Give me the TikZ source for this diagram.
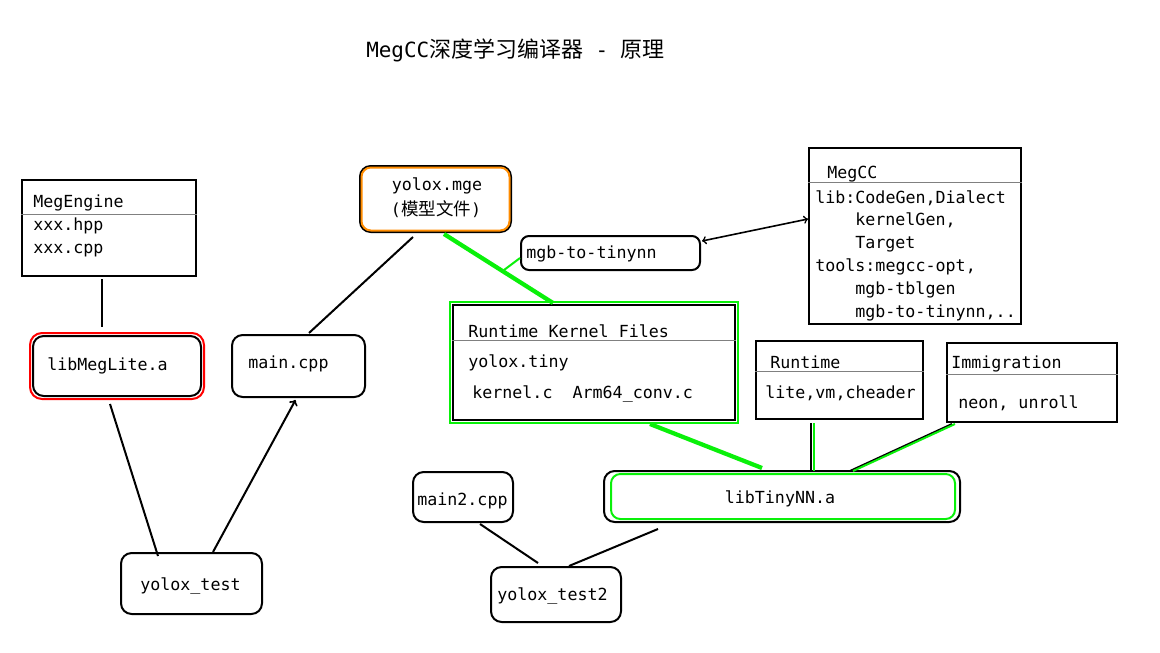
\documentclass[tikz,border=0pt]{standalone}
\usepackage{fontspec}
\usepackage{tikz}
\usetikzlibrary{positioning}
\usepackage{color}
\newfontfamily\mono{DejaVu Sans Mono}
\newfontfamily\cjk[Scale=1.05]{Noto Sans CJK SC}
\definecolor{brightgreen}{RGB}{10,240,10}
\definecolor{mgeorange}{RGB}{255,140,0}

\tikzset{
  box/.style={rectangle, draw=black, line width=1.5pt, inner sep=0pt},
  rbox/.style={box, rounded corners=8pt},
  txt/.style={anchor=base west, inner sep=0pt,
              font=\mono\fontsize{12.5}{15}\selectfont},
  divider/.style={draw=gray, line width=0.75pt}
}

\begin{document}
\begin{tikzpicture}[x=0.75pt, y=-0.75pt]
    \useasboundingbox[fill=white] (0,0) rectangle (1160,653);

    % Title
        \node[anchor=base west, inner sep=0pt] (title) at (366,57)
              {\fontsize{15.7}{18}\selectfont\mono MegCC{\cjk 深度学习编译器}\ -\ {\cjk 原理}};

    % Add the boxes
        \node[box,
              minimum width=130.5pt,
              minimum height=72pt] (megengine) at (109,228) {};
        \node[rbox,
              minimum width=126pt,
              minimum height=45pt] (lite) at (117,366) {};
        \node[rbox,
              minimum width=113.25pt,
              minimum height=49.5pt] (mge) at (435.5,199) {};
        \node[rbox,
              minimum width=99.75pt,
              minimum height=46.5pt] (main) at (298.5,366) {};
        \node[rbox,
              rounded corners=6pt,
              minimum width=134.25pt,
              minimum height=25.5pt] (mgb) at (610.5,253) {};
        \node[box,
              minimum width=159pt,
              minimum height=132pt] (megcc) at (915,236) {};
        \node[box,
              minimum width=211.5pt,
              minimum height=86.25pt] (rkf) at (594,362.5) {};
        \node[box,
              minimum width=125.25pt,
              minimum height=58.5pt] (runtime) at (839.5,380) {};
        \node[box,
              minimum width=127.5pt,
              minimum height=59.25pt] (immig) at (1032,382.5) {};
        \node[rbox,
              minimum width=267pt,
              minimum height=38.25pt] (tiny) at (782,496.5) {};
        \node[rbox,
              minimum width=75pt,
              minimum height=37.5pt] (main2) at (463,497) {};
        \node[rbox,
              minimum width=97.5pt,
              minimum height=41.25pt] (test2) at (556,594.5) {};
        \node[rbox,
              minimum width=105.75pt,
              minimum height=45.75pt] (test) at (191.5,583.5) {};

    % Coloured borders
        \draw[red, line width=1.5pt, rounded corners=9pt]
            ([shift={(-2,2)}]lite.south west) rectangle ([shift={(2,-2)}]lite.north east);
        \draw[mgeorange, line width=1.5pt, rounded corners=7pt]
            ([shift={(2.5,-2.5)}]mge.south west) rectangle ([shift={(-2.5,2.5)}]mge.north east);
        \draw[brightgreen, line width=1.5pt]
            ([shift={(-2,2)}]rkf.south west) rectangle ([shift={(2,-2)}]rkf.north east);
        \draw[brightgreen, line width=1.5pt, rounded corners=7pt]
            ([shift={(8,-4)}]tiny.south west) rectangle ([shift={(-6,4)}]tiny.north east);

    % Dividers
        \draw[divider] (megengine.west |- 0,214) -- (megengine.east |- 0,214);
        \draw[divider] (megcc.west |- 0,182) -- (megcc.east |- 0,182);
        \draw[divider] (rkf.west |- 0,340) -- (rkf.east |- 0,340);
        \draw[divider] (runtime.west |- 0,371) -- (runtime.east |- 0,371);
        \draw[divider] (immig.west |- 0,374) -- (immig.east |- 0,374);

    % Texts
        \node[txt] (megengine-title) at (33,207) {MegEngine};
        \node[txt] (megengine-hpp) at (33,230) {xxx.hpp};
        \node[txt] (megengine-cpp) at (33,253) {xxx.cpp};
        \node[txt] (lite-text) at (47,370) {libMegLite.a};
        \node[txt, anchor=base] (mge-text) at (437,190) {yolox.mge};
        \node[txt, anchor=base] (mge-note) at (436,215) {({\cjk 模型文件})};
        \node[txt] (main-text) at (248,368) {main.cpp};
        \node[txt] (mgb-text) at (526,258) {mgb-to-tinynn};
        \node[txt] (megcc-title) at (827,178) {MegCC};
        \node[txt] (megcc-lib) at (815,203) {lib:CodeGen,Dialect};
        \node[txt] (megcc-kgen) at (855,225) {kernelGen,};
        \node[txt] (megcc-target) at (855,248) {Target};
        \node[txt] (megcc-tools) at (815,271) {tools:megcc-opt,};
        \node[txt] (megcc-tblgen) at (855,294) {mgb-tblgen};
        \node[txt] (megcc-m2t) at (855,317) {mgb-to-tinynn,..};
        \node[txt] (rkf-title) at (468,337) {Runtime Kernel Files};
        \node[txt] (rkf-tiny) at (468,367) {yolox.tiny};
        \node[txt] (rkf-kernel) at (472,398) {kernel.c\ \ Arm64\_conv.c};
        \node[txt] (runtime-title) at (770,368) {Runtime};
        \node[txt] (runtime-body) at (765,398) {lite,vm,cheader};
        \node[txt] (immig-title) at (951,368) {Immigration};
        \node[txt] (immig-body) at (958,408) {neon, unroll};
        \node[txt, anchor=base] (tiny-text) at (780,503) {libTinyNN.a};
        \node[txt] (main2-text) at (417,505) {main2.cpp};
        \node[txt] (test2-text) at (497,600) {yolox\_test2};
        \node[txt] (test-text) at (140,590) {yolox\_test};

        \coordinate (join) at (504,270);

 \draw[line width=1.5pt,
        >=to]

            ([shift={(-7,2)}]megengine.south) edge ([shift={(-15,-8)}]lite.north)
            ([shift={(-22.5,4)}]mge.south) edge ([shift={(10.5,-1)}]main.north)
            ([shift={(-7,7)}]lite.south) edge ([shift={(-33.5,4)}]test.north)
            ([shift={(21.5,0)}]test.north) edge[->] ([shift={(-3,2)}]main.south)
            ([shift={(8.5,1)}]mge.south) edge[draw=brightgreen, line width=3.2pt] ([shift={(-41,-1)}]rkf.north)
            ([shift={(0,5)}]mgb.west) edge[draw=brightgreen] (join)
            ([shift={(1,6)}]mgb.north east) edge[<->, line width=1.2pt] ([shift={(0,-17)}]megcc.west)
            ([shift={(56,3)}]rkf.south) edge[draw=brightgreen, line width=3.2pt] ([shift={(-20,-2)}]tiny.north)
            ([shift={(-28.5,3)}]runtime.south) edge ([shift={(29,0)}]tiny.north)
            ([shift={(-26,3)}]runtime.south) edge[draw=brightgreen] ([shift={(31.5,1)}]tiny.north)
            ([shift={(-80,1)}]immig.south) edge ([shift={(68,1)}]tiny.north)
            ([shift={(-77,1)}]immig.south) edge[draw=brightgreen] ([shift={(71,1)}]tiny.north)
            ([shift={(17,1)}]main2.south) edge ([shift={(-18,-3)}]test2.north)
            ([shift={(-124,6)}]tiny.south) edge ([shift={(13,0)}]test2.north)
            ;

    \end{tikzpicture}
\end{document}
